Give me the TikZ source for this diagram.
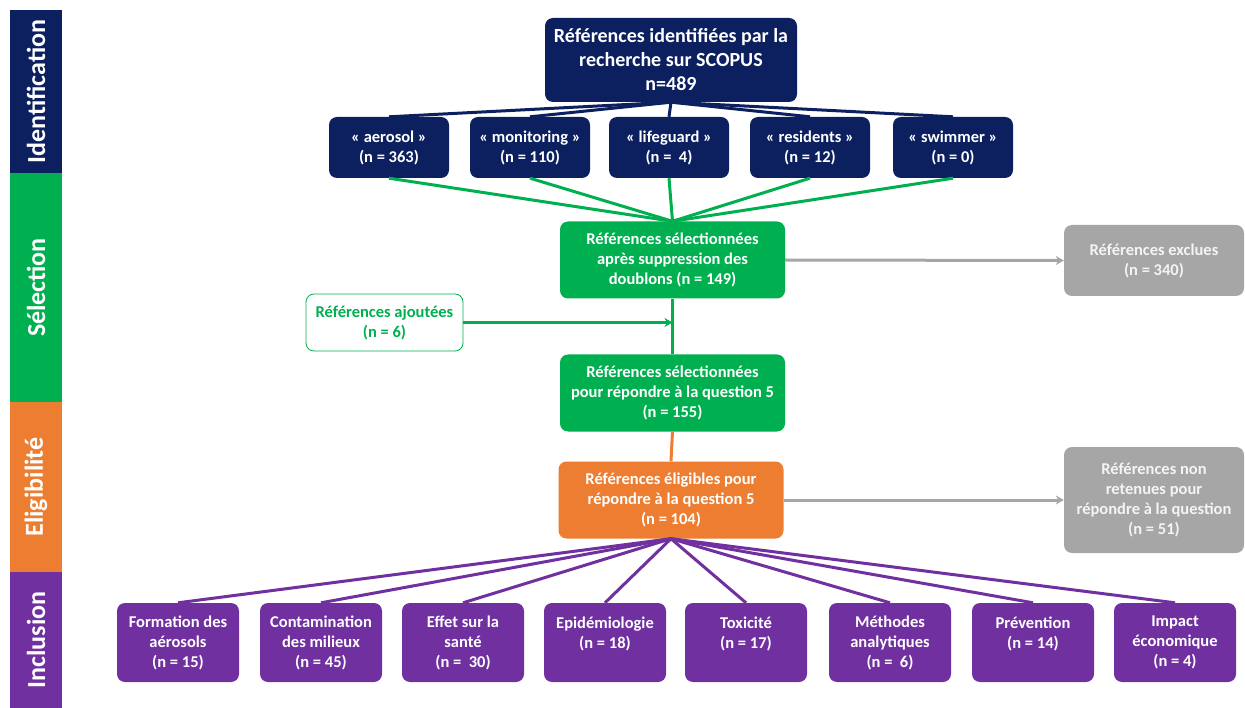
\documentclass[tikz,border=0pt]{standalone}
\usepackage{fontspec}
\setmainfont{Carlito}
\usetikzlibrary{shapes,arrows.meta}
\definecolor{idnavy}{RGB}{12,32,96}
\definecolor{selgreen}{RGB}{0,176,80}
\definecolor{eliorange}{RGB}{237,125,49}
\definecolor{incpurple}{RGB}{112,48,160}
\definecolor{exgray}{RGB}{166,166,166}
\definecolor{extext}{RGB}{244,244,244}

\begin{document}
\begin{tikzpicture}[x=1pt, y=-1pt, font=\bfseries\fontsize{16.5}{20}\selectfont]
\tikzstyle{band}=[rectangle, rotate=90, text=white, inner sep=0pt, minimum height=52pt, font=\bfseries\fontsize{26}{28}\selectfont]
\tikzstyle{boxr}=[rectangle, rounded corners=8pt, text=white, align=center, inner sep=2pt]
\tikzstyle{boxid}=[boxr, fill=idnavy, minimum width=120pt, minimum height=61pt]
\tikzstyle{boxsel}=[boxr, fill=selgreen, minimum width=225pt, minimum height=77pt]
\tikzstyle{boxex}=[boxr, fill=exgray, text=extext, minimum width=180pt]
\tikzstyle{boxinc}=[boxr, fill=incpurple, minimum width=122pt, minimum height=79pt]
\tikzstyle{drawstyle}=[line width=3pt]
\tikzstyle{arrowstyle}=[line width=3pt, -{Stealth[length=8pt, width=9pt]}]

\useasboundingbox (0,0) rectangle (1245,708);

% bandes laterales
\node[band, fill=idnavy, minimum width=163pt] (B0) at (36,91.5) {Identification};
\node[band, fill=selgreen, minimum width=229pt] (B1) at (36,287.5) {Sélection};
\node[band, fill=eliorange, minimum width=170pt] (B2) at (36,487) {Eligibilité};
\node[band, fill=incpurple, minimum width=136pt] (B3) at (36,640) {Inclusion};

% identification
\node[boxr, fill=idnavy, minimum width=252pt, minimum height=84pt, font=\bfseries\fontsize{20}{24}\selectfont] (R0) at (671,60) {Références identifiées par la\\recherche sur SCOPUS\\n=489};
\node[boxid] (K1) at (389,147.5) {« aerosol »\\(n = 363)};
\node[boxid] (K2) at (530,147.5) {« monitoring »\\(n = 110)};
\node[boxid] (K3) at (669,147.5) {« lifeguard »\\(n =\ \ 4)};
\node[boxid] (K4) at (810,147.5) {« residents »\\(n = 12)};
\node[boxid] (K5) at (953,147.5) {« swimmer »\\(n = 0)};
\draw[drawstyle, idnavy] (R0.south) -- (K1.north);
\draw[drawstyle, idnavy] (R0.south) -- (K2.north);
\draw[drawstyle, idnavy] (R0.south) -- (K3.north);
\draw[drawstyle, idnavy] (R0.south) -- (K4.north);
\draw[drawstyle, idnavy] (R0.south) -- (K5.north);

% selection
\node[boxsel] (S1) at (672.5,260) {Références sélectionnées\\après suppression des\\doublons (n = 149)};
\node[boxex, minimum height=71pt] (X1) at (1154,260.5) {Références exclues\\(n = 340)};
\node[boxr, fill=white, draw=selgreen, line width=0.8pt, text=selgreen, minimum width=157pt, minimum height=57pt] (A0) at (384.5,322.5) {Références ajoutées\\(n = 6)};
\node[boxsel] (S2) at (672.5,393) {Références sélectionnées\\pour répondre à la question 5\\(n = 155)};
\coordinate (J0) at (S1.south |- A0.east);
\draw[drawstyle, selgreen] (K1.south) -- (S1.north);
\draw[drawstyle, selgreen] (K2.south) -- (S1.north);
\draw[drawstyle, selgreen] (K3.south) -- (S1.north);
\draw[drawstyle, selgreen] (K4.south) -- (S1.north);
\draw[drawstyle, selgreen] (K5.south) -- (S1.north);
\draw[arrowstyle, exgray] (S1.east) -- (X1.west);
\draw[drawstyle, selgreen] (S1.south) -- (S2.north);
\draw[arrowstyle, selgreen] (A0.east) -- (J0);

% eligibilite
\node[boxsel, fill=eliorange] (E0) at (671,500) {Références éligibles pour\\répondre à la question 5\\(n = 104)};
\node[boxex, minimum height=106pt] (X2) at (1154,500) {Références non\\retenues pour\\répondre à la question\\(n = 51)};
\draw[drawstyle, eliorange] (S2.south) -- (E0.north);
\draw[arrowstyle, exgray] (E0.east) -- (X2.west);

% inclusion
\node[boxinc] (I1) at (178,642.5) {Formation des\\aérosols\\(n = 15)};
\node[boxinc] (I2) at (321,642.5) {Contamination\\des milieux\\(n = 45)};
\node[boxinc] (I3) at (463,642.5) {Effet sur la\\santé\\(n =\ \ 30)};
\node[boxinc] (I4) at (605,642.5) {Epidémiologie\\(n = 18)\\~};
\node[boxinc] (I5) at (746,642.5) {Toxicité\\(n = 17)\\~};
\node[boxinc] (I6) at (890,642.5) {Méthodes\\analytiques\\(n =\ \ 6)};
\node[boxinc] (I7) at (1033,642.5) {Prévention\\(n = 14)\\~};
\node[boxinc] (I8) at (1175,642.5) {Impact\\économique\\(n = 4)};
\draw[drawstyle, incpurple] (E0.south) -- (I1.north);
\draw[drawstyle, incpurple] (E0.south) -- (I2.north);
\draw[drawstyle, incpurple] (E0.south) -- (I3.north);
\draw[drawstyle, incpurple] (E0.south) -- (I4.north);
\draw[drawstyle, incpurple] (E0.south) -- (I5.north);
\draw[drawstyle, incpurple] (E0.south) -- (I6.north);
\draw[drawstyle, incpurple] (E0.south) -- (I7.north);
\draw[drawstyle, incpurple] (E0.south) -- (I8.north);
\end{tikzpicture}
\end{document}
